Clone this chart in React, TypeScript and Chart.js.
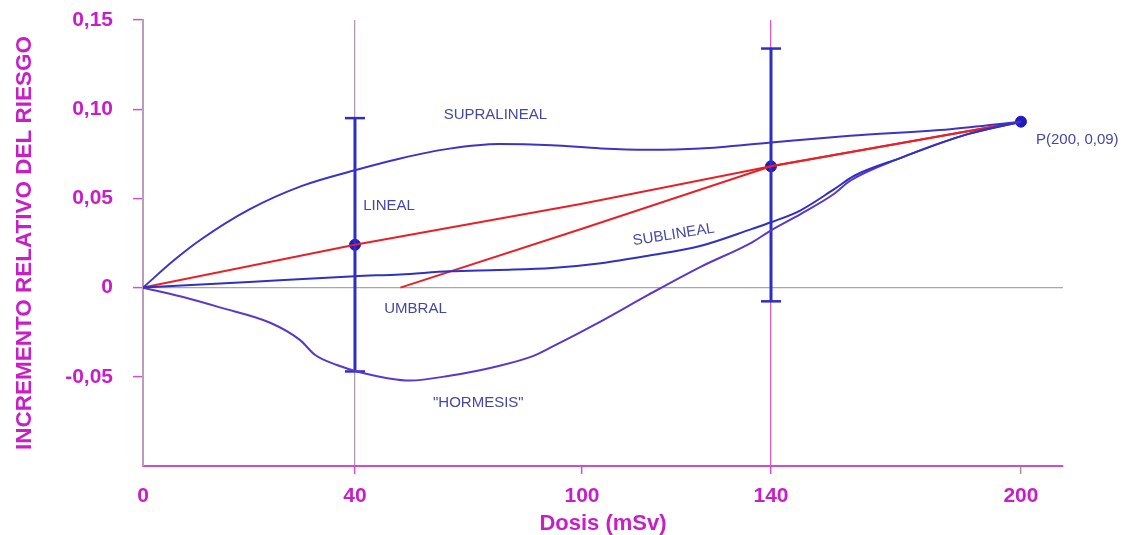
import { useEffect, useRef } from 'react';
import { Chart, registerables, LinearScale } from 'chart.js';

// ---------- data (dose in mSv, relative risk increment) ----------
const xTickValues = [0, 40, 100, 140, 200];
const yTickValues = [-0.05, 0, 0.05, 0.1, 0.15];

const supralinealDose = [0, 6, 11, 20, 30, 40, 52, 65, 78, 92, 104, 114, 125, 140, 159, 183, 200];
const supralinealRisk = [0, 0.0157, 0.0271, 0.0437, 0.057, 0.0658, 0.0724, 0.0779, 0.0805, 0.0798, 0.078, 0.0773, 0.078, 0.0814, 0.0851, 0.0888, 0.093];

const linealDose = [0, 40, 100, 140, 200];
const linealRisk = [0, 0.024, 0.047, 0.068, 0.093];

const umbralDose = [52, 100, 140, 200];
const umbralRisk = [0, 0.033, 0.068, 0.093];

const sublinealDose = [0, 20, 40, 52, 65, 78, 92, 104, 114, 125, 136, 140, 147, 155, 160, 171, 187, 200];
const sublinealRisk = [0, 0.0032, 0.0064, 0.0074, 0.0091, 0.0099, 0.011, 0.0137, 0.0179, 0.0233, 0.0329, 0.0366, 0.0432, 0.0549, 0.0627, 0.0726, 0.0859, 0.093];

const hormesisDose = [0, 7, 14.5, 24, 29.6, 32.5, 36.6, 41.3, 54.5, 65, 78, 87, 91.5, 104, 114, 125, 136, 140, 147, 155, 159, 171, 187, 200];
const hormesisRisk = [0, -0.0049, -0.0111, -0.0197, -0.0293, -0.0378, -0.0434, -0.0474, -0.0521, -0.0494, -0.0439, -0.0384, -0.0338, -0.0189, -0.0041, 0.0115, 0.0254, 0.0321, 0.0411, 0.0523, 0.0599, 0.0726, 0.0859, 0.093];

const errorDose = [40, 140];
const errorMean = [0.024, 0.068];
const errorLow = [-0.047, -0.0077];
const errorHigh = [0.095, 0.134];

const pointDose = [200];
const pointRisk = [0.093];

const labelTexts = ['SUPRALINEAL', 'LINEAL', 'SUBLINEAL', 'UMBRAL', '"HORMESIS"', 'P(200, 0,09)'];
const labelDose = [77.1, 49, 119.4, 56, 72.6, 213.4];
const labelRisk = [0.0968, 0.0456, 0.0296, -0.0117, -0.0646, 0.0828];
const labelRotation = [0, 0, -9, 0, 0, 0];

// ---------- schematic (non-uniform) dose axis ----------
const DOSE_BREAKS = [0, 40, 100, 140, 200, 210];
const AXIS_FRACTIONS = [0, 0.2304, 0.4772, 0.6826, 0.9543, 1];

function doseToFraction(v: number): number {
  const n = DOSE_BREAKS.length;
  let i = 0;
  if (v >= DOSE_BREAKS[n - 1]) i = n - 2;
  else {
    while (i < n - 2 && v > DOSE_BREAKS[i + 1]) i++;
  }
  const d0 = DOSE_BREAKS[i], d1 = DOSE_BREAKS[i + 1];
  const f0 = AXIS_FRACTIONS[i], f1 = AXIS_FRACTIONS[i + 1];
  return f0 + ((v - d0) / (d1 - d0)) * (f1 - f0);
}

function fractionToDose(f: number): number {
  const n = AXIS_FRACTIONS.length;
  let i = 0;
  if (f >= AXIS_FRACTIONS[n - 1]) i = n - 2;
  else {
    while (i < n - 2 && f > AXIS_FRACTIONS[i + 1]) i++;
  }
  const d0 = DOSE_BREAKS[i], d1 = DOSE_BREAKS[i + 1];
  const f0 = AXIS_FRACTIONS[i], f1 = AXIS_FRACTIONS[i + 1];
  return d0 + ((f - f0) / (f1 - f0)) * (d1 - d0);
}

class PiecewiseDoseScale extends LinearScale {
  static id = 'piecewiseDose';
  static defaults = {};
  getPixelForValue(value: number) {
    return (this as any).getPixelForDecimal(doseToFraction(value));
  }
  getValueForPixel(pixel: number) {
    return fractionToDose((this as any).getDecimalForPixel(pixel));
  }
}

Chart.register(...registerables, PiecewiseDoseScale as any);

const zip = (xs: number[], ys: number[]) => xs.map((x, i) => ({ x, y: ys[i] }));

const MAGENTA = '#c81ec8';
const BLUE = '#2e2ec4';
const RED = '#e82028';
const FONT = '"Liberation Sans", Arial, Helvetica, sans-serif';

const labelPlugin = {
  id: 'curveLabels',
  afterDatasetsDraw(chart: any) {
    const { ctx, scales } = chart;
    const xs = scales.x, ys = scales.y;
    ctx.save();
    ctx.font = `15px ${FONT}`;
    ctx.fillStyle = '#4646a8';
    ctx.textAlign = 'center';
    ctx.textBaseline = 'middle';
    labelTexts.forEach((t, i) => {
      const px = xs.getPixelForValue(labelDose[i]);
      const py = ys.getPixelForValue(labelRisk[i]);
      ctx.save();
      ctx.translate(px, py);
      ctx.rotate((labelRotation[i] * Math.PI) / 180);
      ctx.fillText(t, 0, 0);
      ctx.restore();
    });
    ctx.restore();
  },
};

export default function App() {
  const ref = useRef<HTMLCanvasElement | null>(null);

  useEffect(() => {
    if (!ref.current) return;
    const curve = (data: any, color: string, width = 2) => ({
      type: 'line',
      data,
      borderColor: color,
      borderWidth: width,
      pointRadius: 0,
      fill: false,
      cubicInterpolationMode: 'monotone',
    });
    const straight = (data: any, color: string) => ({
      type: 'line',
      data,
      borderColor: color,
      borderWidth: 2,
      pointRadius: 0,
      fill: false,
      tension: 0,
    });
    const errorBar = (i: number) => ({
      type: 'line',
      data: [
        { x: errorDose[i], y: errorLow[i] },
        { x: errorDose[i], y: errorHigh[i] },
      ],
      borderColor: BLUE,
      borderWidth: 3,
      pointStyle: 'line',
      pointRadius: 10,
      pointBorderWidth: 2.5,
      pointBorderColor: BLUE,
      fill: false,
      tension: 0,
    });

    const chart = new Chart(ref.current, {
      type: 'line',
      data: {
        datasets: [
          curve(zip(supralinealDose, supralinealRisk), '#3c34c6'),
          curve(zip(sublinealDose, sublinealRisk), '#3030c2'),
          curve(zip(hormesisDose, hormesisRisk), '#5a38cc'),
          straight(zip(linealDose, linealRisk), RED),
          straight(zip(umbralDose, umbralRisk), RED),
          errorBar(0),
          errorBar(1),
          {
            type: 'scatter',
            data: zip(errorDose, errorMean),
            pointRadius: 5.5,
            pointBackgroundColor: '#1c1cc0',
            pointBorderColor: '#1c1cc0',
            showLine: false,
          },
          {
            type: 'scatter',
            data: zip(pointDose, pointRisk),
            pointRadius: 5.5,
            pointBackgroundColor: '#1c1cc0',
            pointBorderColor: '#1c1cc0',
            showLine: false,
          },
        ] as any,
      },
      options: {
        animation: false,
        responsive: false,
        events: [],
        layout: { padding: { left: 0, right: 65, top: 20, bottom: 0 } },
        plugins: {
          legend: { display: false },
          tooltip: { enabled: false },
        },
        scales: {
          x: {
            type: 'piecewiseDose' as any,
            min: 0,
            max: 210,
            afterBuildTicks: (s: any) => {
              s.ticks = xTickValues.map((v) => ({ value: v }));
            },
            afterFit: (s: any) => {
              s.height = 69;
            },
            grid: {
              color: (c: any) =>
                c.tick && c.tick.value === 40
                  ? '#b49ab4'
                  : c.tick && c.tick.value === 140
                  ? '#d65ad6'
                  : 'rgba(0,0,0,0)',
              lineWidth: 1.3,
              tickLength: 8,
              tickWidth: 1.5,
              tickColor: (c: any) =>
                c.tick && c.tick.value === 0
                  ? 'rgba(0,0,0,0)'
                  : c.tick && c.tick.value === 200
                  ? '#9a9a9a'
                  : '#d050d0',
            },
            border: { color: '#d24ad2', width: 2 },
            ticks: {
              color: MAGENTA,
              font: { family: FONT, size: 21, weight: 'bold' },
              padding: 10,
              maxRotation: 0,
              autoSkip: false,
              callback: (v: any) => String(v),
            },
            title: {
              display: true,
              text: 'Dosis (mSv)',
              color: MAGENTA,
              font: { family: FONT, size: 22, weight: 'bold', lineHeight: 1 },
              padding: { top: 0, bottom: 0 },
            },
          } as any,
          y: {
            type: 'linear',
            min: -0.1,
            max: 0.15,
            afterBuildTicks: (s: any) => {
              s.ticks = yTickValues.map((v) => ({ value: v }));
            },
            afterFit: (s: any) => {
              s.width = 143;
              s.paddingTop = 0;
              s.paddingBottom = 0;
            },
            grid: {
              color: (c: any) => (c.tick && c.tick.value === 0 ? '#aea4ae' : 'rgba(0,0,0,0)'),
              lineWidth: 1.2,
              tickLength: 10,
              tickWidth: 1.5,
              tickColor: '#d050d0',
            },
            border: { color: '#bc9cbc', width: 2 },
            ticks: {
              color: MAGENTA,
              font: { family: FONT, size: 21, weight: 'bold' },
              padding: 20,
              autoSkip: false,
              callback: (v: any) => (Number(v) === 0 ? '0' : Number(v).toFixed(2).replace('.', ',')),
            },
            title: {
              display: true,
              text: 'INCREMENTO RELATIVO DEL RIESGO',
              color: MAGENTA,
              font: { family: FONT, size: 22.5, weight: 'bold', lineHeight: 1 },
              padding: { top: 14, bottom: 0 },
            },
          } as any,
        },
      },
      plugins: [labelPlugin as any],
    } as any);

    return () => chart.destroy();
  }, []);

  return (
    <div style={{ position: 'fixed', left: 0, top: 0, width: 1128, height: 535, background: '#fff' }}>
      <canvas ref={ref} width={1128} height={535} style={{ display: 'block' }} />
    </div>
  );
}
